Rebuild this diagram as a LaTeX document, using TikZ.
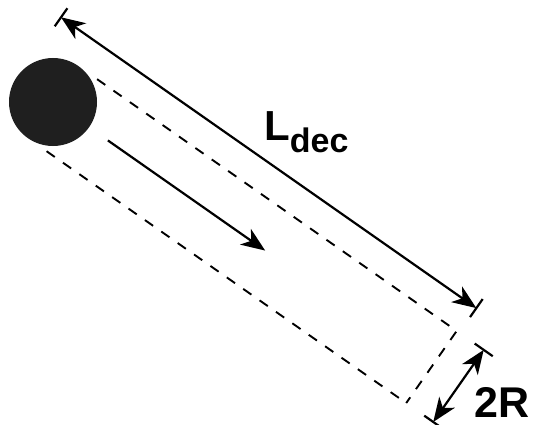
\documentclass[tikz,border=0pt]{standalone}
\usepackage{fontspec}
\setmainfont{Liberation Sans}
\usetikzlibrary{arrows.meta,calc}

\begin{document}
\begin{tikzpicture}[x=1pt,y=1pt,>={Stealth[length=24pt,width=19pt,inset=7pt]},
  guide/.style={dash pattern=on 10pt off 10pt,line width=1.9pt},
  dimline/.style={line width=2.2pt},
  tickmark/.style={line width=2.2pt}]
\useasboundingbox (0,0) rectangle (535,-425);
\begin{scope}[shift={(53,-102)},rotate=-35]
\node[circle,fill=black!88,minimum size=88pt,inner sep=0] (ball) at (0,0) {};
% tube swept by the ball
\coordinate (ua) at (23,44);   \coordinate (ub) at (462,44);
\coordinate (la) at (23,-44);  \coordinate (lb) at (462,-44);
\draw[guide] (ua) -- (ub) -- (lb);
\draw[guide] (la) -- (lb);
% motion
\coordinate (ma) at (67,0); \coordinate (mb) at (259,0);
\draw[dimline,->] (ma) -- (mb);
% decay length
\coordinate (da) at (-42,74); \coordinate (db) at (465,74);
\draw[dimline,<->] (da) -- (db);
\draw[tickmark] ($(da)+(0,-11)$) -- ($(da)+(0,11)$);
\draw[tickmark] ($(db)+(0,-11)$) -- ($(db)+(0,11)$);
% diameter
\coordinate (ra) at (495,44); \coordinate (rb) at (495,-44);
\draw[dimline,<->] (ra) -- (rb);
\draw[tickmark] ($(ra)+(-11,0)$) -- ($(ra)+(11,0)$);
\draw[tickmark] ($(rb)+(-11,0)$) -- ($(rb)+(11,0)$);
\end{scope}
\node[anchor=base west,inner sep=0] (ldec) at (264,-140)
  {\fontsize{42}{42}\selectfont\bfseries L\raisebox{-12pt}{\fontsize{34}{34}\selectfont dec}};
\node[anchor=base west,inner sep=0,text depth=0pt] (tworad) at (474,-417)
  {\fontsize{43}{43}\selectfont\bfseries 2R};
\end{tikzpicture}
\end{document}
